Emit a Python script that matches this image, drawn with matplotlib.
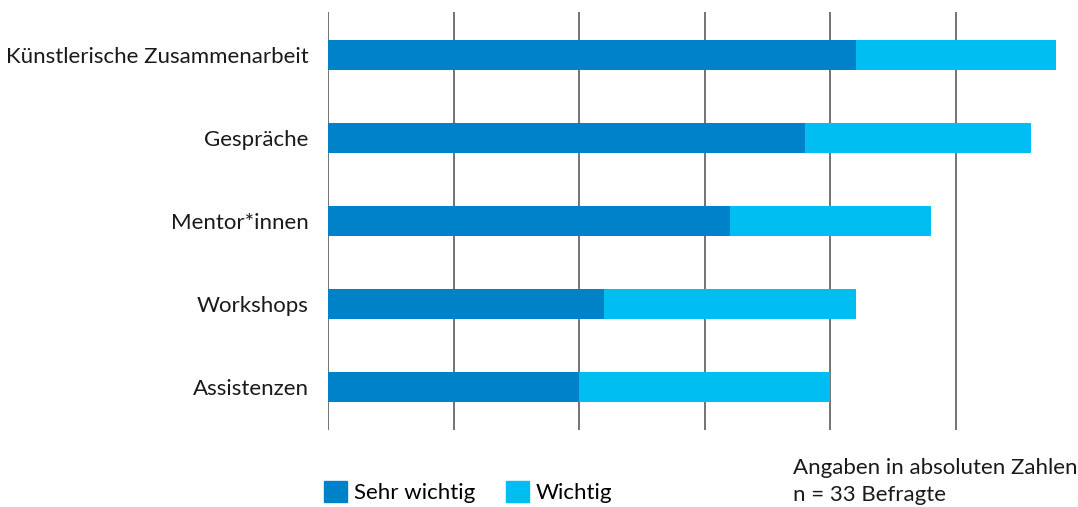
import numpy as np
import matplotlib.pyplot as plt
from matplotlib.patches import Patch

# Values (absolute counts, n = 33)
categories = ["Künstlerische Zusammenarbeit", "Gespräche", "Mentor*innen",
              "Workshops", "Assistenzen"]
sehr_wichtig = [21, 19, 16, 11, 10]
wichtig = [8, 9, 8, 10, 10]
grid_ticks = [0, 5, 10, 15, 20, 25]

DARK = "#0082c8"
LIGHT = "#00bef2"
FS = 16

plt.rcParams["font.family"] = ["Lato", "DejaVu Sans"]

fig = plt.figure(figsize=(10.78, 5.07), dpi=100)
ax = fig.add_axes([328 / 1078, 77 / 507, 750 / 1078, 418 / 507])

y = np.arange(len(categories))
h = 0.36
ax.barh(y, sehr_wichtig, height=h, color=DARK, zorder=2)
ax.barh(y, wichtig, left=sehr_wichtig, height=h, color=LIGHT, zorder=2)

for t in grid_ticks:
    ax.axvline(t, color="#4d4d4d", linewidth=1.1, zorder=1)

ax.set_xlim(0, 750 / 25.12)
ax.set_ylim(len(categories) - 1 + 0.518, -0.518)
ax.set_yticks(y)
ax.set_yticklabels(categories, fontsize=FS, color="#1a1a1a")
ax.tick_params(axis="y", length=0, pad=14)
ax.set_xticks([])
for s in ax.spines.values():
    s.set_visible(False)

handles = [Patch(color=DARK, label="Sehr wichtig"),
           Patch(color=LIGHT, label="Wichtig")]
fig.legend(handles=handles, loc="center left", bbox_to_anchor=(324 / 1078, 1 - 492 / 507),
           ncol=2, frameon=False, fontsize=FS, handlelength=1.04, handleheight=1.04,
           handletextpad=0.3, columnspacing=1.4, borderpad=0, borderaxespad=0)

fig.text(793 / 1078, 1 - 468 / 507, "Angaben in absoluten Zahlen", fontsize=FS,
         color="#1a1a1a", va="center")
fig.text(793 / 1078, 1 - 495 / 507, "n = 33 Befragte", fontsize=FS,
         color="#1a1a1a", va="center")

fig.savefig("out.png", dpi=100)
